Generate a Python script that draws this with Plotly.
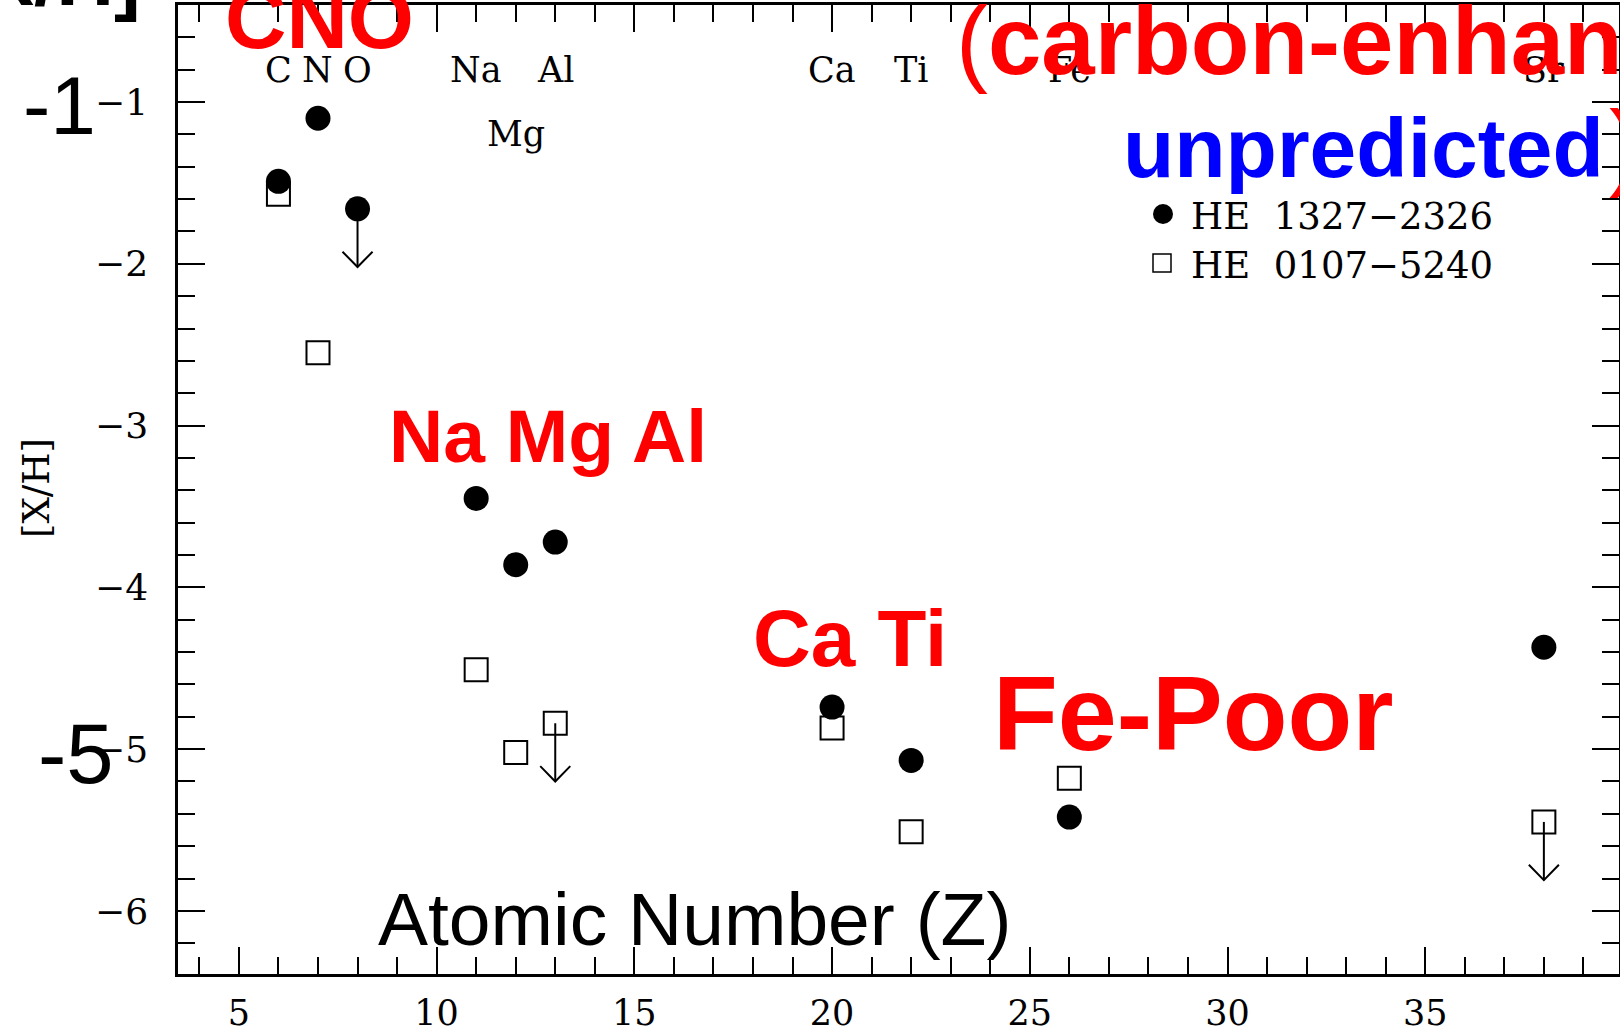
import plotly.graph_objects as go

# Abundances [X/H] versus atomic number for two hyper metal-poor stars
series_a_name = "HE 1327\u22122326"
series_a_z = [6, 7, 8, 11, 12, 13, 20, 22, 26, 38]
series_a_xh = [-1.49, -1.10, -1.66, -3.45, -3.86, -3.72, -4.74, -5.07, -5.42, -4.37]
series_a_limit = [False, False, True, False, False, False, False, False, False, False]

series_b_name = "HE 0107\u22125240"
series_b_z = [6, 7, 11, 12, 13, 20, 22, 26, 38]
series_b_xh = [-1.57, -2.55, -4.51, -5.02, -4.84, -4.87, -5.51, -5.18, -5.45]
series_b_limit = [False, False, False, False, True, False, False, False, True]

element_symbols = ["C", "N", "O", "Na", "Mg", "Al", "Ca", "Ti", "Fe", "Sr"]
element_z = [6, 7, 8, 11, 12, 13, 20, 22, 26, 38]
element_row = [0, 0, 0, 0, 1, 0, 0, 0, 0, 0]

x_ticks = [5, 10, 15, 20, 25, 30, 35]
y_ticks = [-1, -2, -3, -4, -5, -6]

# figure geometry (pixels)
W, H = 1620, 1036
ML, MR, MT, MB = 178, 1, 5, 62
PW, PH = W - ML - MR, H - MT - MB

SERIF = "DejaVu Serif"
SANS = "Liberation Sans"
RED = "#ff0000"
BLUE = "#0000ff"

# upper-limit arrow style (data units)
ARROW_LEN = 0.36
HEAD_HALF_W = 0.38
HEAD_H = 0.095

# element label rows (data y of the label centre)
LABEL_ROW_Y = [-0.80, -1.20]


def px(x):
    return (x - ML) / PW


def py(y):
    return 1 - (y - MT) / PH


def arrow_path(zs, vals, flags):
    xs, ys = [], []
    for z, v, f in zip(zs, vals, flags):
        if not f:
            continue
        tip = v - ARROW_LEN
        xs += [z, z, None, z - HEAD_HALF_W, z, z + HEAD_HALF_W, None]
        ys += [v, tip, None, tip + HEAD_H, tip, tip + HEAD_H, None]
    return xs, ys


fig = go.Figure()

fig.add_trace(go.Scatter(
    x=series_b_z, y=series_b_xh, mode="markers", name=series_b_name,
    marker=dict(symbol="square-open", size=23, color="black", line=dict(width=2)),
    showlegend=False, cliponaxis=False,
))

for zs, vals, flags in [(series_a_z, series_a_xh, series_a_limit),
                        (series_b_z, series_b_xh, series_b_limit)]:
    ax_, ay_ = arrow_path(zs, vals, flags)
    fig.add_trace(go.Scatter(x=ax_, y=ay_, mode="lines",
                             line=dict(color="black", width=2),
                             showlegend=False, hoverinfo="skip"))

fig.add_trace(go.Scatter(
    x=series_a_z, y=series_a_xh, mode="markers", name=series_a_name,
    marker=dict(symbol="circle", size=25, color="black", line=dict(width=0)),
    showlegend=False, cliponaxis=False,
))

annotations = []

# element symbols along the top of the panel
for sym, z, row in zip(element_symbols, element_z, element_row):
    annotations.append(dict(
        x=z, y=LABEL_ROW_Y[row], xref="x", yref="y", text=sym, showarrow=False,
        xanchor="center", yanchor="middle", borderpad=0,
        font=dict(family=SERIF, size=35, color="black"),
    ))

# rotated y-axis title
annotations.append(dict(
    x=px(36), y=py(488), xref="paper", yref="paper", text="[X/H]",
    showarrow=False, textangle=-90, xanchor="center", yanchor="middle",
    font=dict(family=SERIF, size=37, color="black"), borderpad=0,
))

# legend entries
legend_rows = [(series_a_name, 216), (series_b_name, 265)]
for name, yc in legend_rows:
    label = name.replace(" ", "\u00a0\u00a0")
    annotations.append(dict(
        x=px(1190), y=py(yc), xref="paper", yref="paper", text=label,
        showarrow=False, xanchor="left", yanchor="middle", borderpad=0,
        font=dict(family=SERIF, size=37, color="black"),
    ))

shapes = [
    dict(type="circle", xref="paper", yref="paper", xsizemode="pixel", ysizemode="pixel",
         xanchor=px(1163), yanchor=py(214), x0=-10, x1=10, y0=-10, y1=10,
         fillcolor="black", line=dict(width=0)),
    dict(type="rect", xref="paper", yref="paper", xsizemode="pixel", ysizemode="pixel",
         xanchor=px(1162), yanchor=py(263), x0=-9, x1=9, y0=-9, y1=9,
         fillcolor="rgba(0,0,0,0)", line=dict(color="black", width=1.5)),
]


def big_text(text, x, yc, size, color, anchor="left", bold=True):
    annotations.append(dict(
        x=px(x), y=py(yc), xref="paper", yref="paper",
        text=f"<b>{text}</b>" if bold else text,
        showarrow=False, xanchor=anchor, yanchor="middle", borderpad=0,
        font=dict(family=SANS, size=size, color=color),
    ))


# slide overlay captions
big_text("[X/H]", 142, -22.7, 80, "black", anchor="right")
big_text("CNO", 224, 18.5, 85, RED)
big_text("(<b>carbon-enhan</b>", 955, 40.7, 96, RED, bold=False)
big_text("unpredicted", 1122, 148, 84, BLUE)
big_text(")", 1608, 144.7, 96, RED, bold=False)
big_text("Na Mg Al", 388, 436, 75, RED)
big_text("Ca Ti", 752, 638.6, 80, RED)
big_text("Fe-Poor", 992, 712.6, 106, RED)
big_text("Atomic Number (Z)", 377, 919, 75, "black", bold=False)
big_text("-1", 22, 105, 82, "black", bold=False)
big_text("-5", 37, 753.5, 85, "black", bold=False)

axis_common = dict(
    showline=True, linecolor="black", linewidth=2.5, mirror="allticks",
    ticks="inside", ticklen=27, tickwidth=2, tickcolor="black",
    showgrid=False, zeroline=False, automargin=False,
)

fig.update_layout(
    width=W, height=H,
    margin=dict(l=ML, r=MR, t=MT, b=MB, autoexpand=False),
    paper_bgcolor="white", plot_bgcolor="white",
    showlegend=False,
    xaxis=dict(range=[3.46, 39.9], tickvals=x_ticks, ticklabelstandoff=6,
               tickfont=dict(family=SERIF, size=35, color="black"),
               minor=dict(dtick=1, tick0=0, ticks="inside", ticklen=17, tickwidth=2,
                          tickcolor="black", showgrid=False),
               **axis_common),
    yaxis=dict(range=[-6.39, -0.40], tickvals=y_ticks, ticklabelstandoff=20,
               tickfont=dict(family=SERIF, size=36, color="black"),
               minor=dict(dtick=0.2, tick0=0, ticks="inside", ticklen=17, tickwidth=2,
                          tickcolor="black", showgrid=False),
               **axis_common),
    annotations=annotations,
    shapes=shapes,
)

fig.write_html("out.html")
